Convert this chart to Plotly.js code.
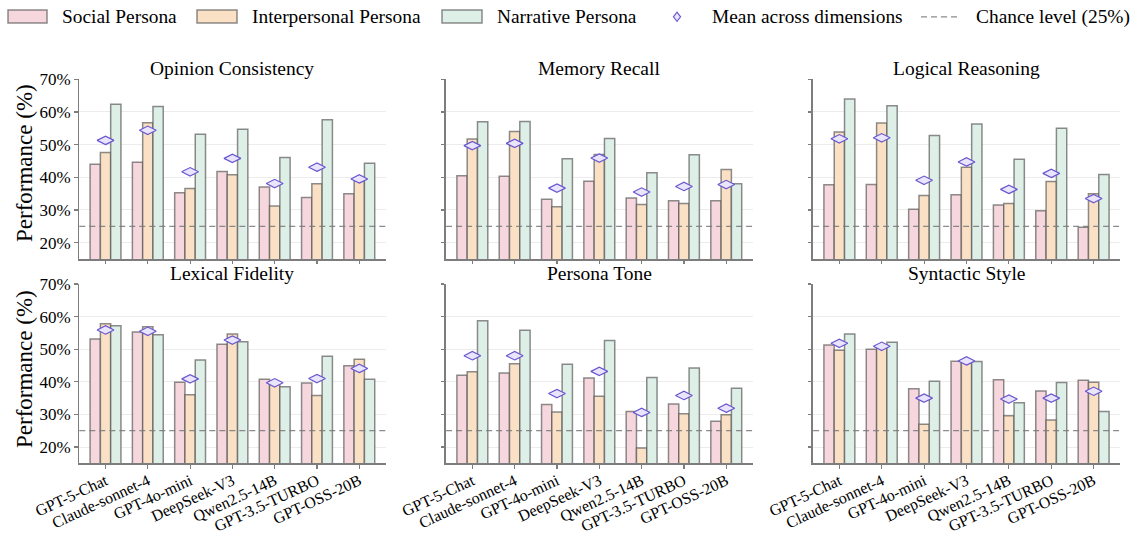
<!DOCTYPE html>
<html>
<head>
<meta charset="utf-8">
<script src="https://cdn.plot.ly/plotly-3.0.1.min.js"></script>
<style>html,body{margin:0;padding:0;background:#fff;}#chart{width:1137px;height:536px;}</style>
</head>
<body>
<div id="chart"></div>
<script>
// ---------- data ----------
const models = ['GPT-5-Chat','Claude-sonnet-4','GPT-4o-mini','DeepSeek-V3','Qwen2.5-14B','GPT-3.5-TURBO','GPT-OSS-20B'];
const dimensions = ['Opinion Consistency','Memory Recall','Logical Reasoning','Lexical Fidelity','Persona Tone','Syntactic Style'];
const seriesNames = ['Social Persona','Interpersonal Persona','Narrative Persona'];
const meanName = 'Mean across dimensions';
const chanceName = 'Chance level (25%)';
const yTitle = 'Performance (%)';
const chanceLevel = 25;
const yTickVals = [20,30,40,50,60,70];
const yTickLabels = ['20%','30%','40%','50%','60%','70%'];

const opinionSocial        = [44.0,44.6,35.3,41.8,37.0,33.8,35.0];
const opinionInterpersonal = [47.6,56.7,36.6,40.8,31.2,38.0,39.3];
const opinionNarrative     = [62.4,61.7,53.2,54.7,46.1,57.6,44.3];
const opinionMean          = [51.3,54.4,41.7,45.8,38.1,43.1,39.5];

const memorySocial         = [40.5,40.3,33.3,38.8,33.7,32.8,32.8];
const memoryInterpersonal  = [51.7,54.0,31.0,47.0,31.7,32.0,42.4];
const memoryNarrative      = [57.0,57.1,45.7,51.9,41.4,46.9,38.0];
const memoryMean           = [49.7,50.4,36.7,45.9,35.5,37.2,37.8];

const logicalSocial        = [37.7,37.8,30.2,34.7,31.5,29.8,24.7];
const logicalInterpersonal = [53.9,56.6,34.4,43.1,32.0,38.7,35.0];
const logicalNarrative     = [64.0,61.9,52.8,56.3,45.5,55.0,40.9];
const logicalMean          = [51.8,52.1,39.1,44.7,36.3,41.2,33.5];

const lexicalSocial        = [53.1,55.3,39.9,51.5,40.8,39.6,44.9];
const lexicalInterpersonal = [57.8,56.9,36.0,54.7,39.8,35.8,46.9];
const lexicalNarrative     = [57.2,54.4,46.7,52.3,38.5,47.8,40.8];
const lexicalMean          = [55.9,55.5,40.9,52.8,39.7,41.0,44.1];

const toneSocial           = [42.0,42.7,33.0,41.2,30.9,33.2,27.9];
const toneInterpersonal    = [43.1,45.5,30.7,35.6,19.7,30.2,29.9];
const toneNarrative        = [58.7,55.8,45.4,52.7,41.3,44.2,38.0];
const toneMean             = [48.0,48.0,36.4,43.2,30.6,35.8,31.9];

const syntacticSocial        = [51.3,50.0,37.9,46.3,40.6,37.2,40.5];
const syntacticInterpersonal = [49.7,50.9,27.0,46.6,29.6,28.3,39.9];
const syntacticNarrative     = [54.7,52.1,40.2,46.2,33.6,39.8,30.9];
const syntacticMean          = [51.8,50.9,35.0,46.4,34.7,35.0,37.1];

const panelData = [
  [opinionSocial, opinionInterpersonal, opinionNarrative, opinionMean],
  [memorySocial, memoryInterpersonal, memoryNarrative, memoryMean],
  [logicalSocial, logicalInterpersonal, logicalNarrative, logicalMean],
  [lexicalSocial, lexicalInterpersonal, lexicalNarrative, lexicalMean],
  [toneSocial, toneInterpersonal, toneNarrative, toneMean],
  [syntacticSocial, syntacticInterpersonal, syntacticNarrative, syntacticMean]
];

// ---------- style ----------
const W = 1137, H = 536;
const px = v => v / W;
const py = v => 1 - v / H;
const FONT = 'Liberation Serif, Times New Roman, Times, serif';
const fills = ['#f7d7de', '#fae1c6', '#ddefe7'];
const barEdge = 'rgba(80,80,80,0.65)';
const spine = '#7d7d7d';
const colDomains = [[px(79.3), px(385.5)], [px(446.1), px(752.5)], [px(813.1), px(1119.9)]];
const rowDomains = [[py(259), py(79.3)], [py(463.3), py(284)]];
const yTitleCenters = [163, 369];

const traces = [];
const layout = {
  width: W, height: H,
  margin: {l: 0, r: 0, t: 0, b: 0},
  paper_bgcolor: '#fff', plot_bgcolor: '#fff',
  showlegend: false,
  barmode: 'group', bargap: 0.27, bargroupgap: 0,
  font: {family: FONT, color: '#000', size: 17},
  shapes: [], annotations: []
};

for (let p = 0; p < 6; p++) {
  const row = Math.floor(p / 3), col = p % 3;
  const n = p + 1;
  const xa = 'x' + (n === 1 ? '' : n), ya = 'y' + (n === 1 ? '' : n);
  const [s, i, nv, m] = panelData[p];
  [s, i, nv].forEach((vals, k) => {
    traces.push({
      type: 'bar', x: models, y: vals, name: seriesNames[k],
      xaxis: xa, yaxis: ya,
      marker: {color: fills[k], line: {color: barEdge, width: 1.5}},
      hoverinfo: 'x+y'
    });
  });
  traces.push({
    type: 'scatter', mode: 'markers', x: models, y: m, name: meanName,
    xaxis: xa, yaxis: ya,
    marker: {symbol: 'diamond-wide', size: 12, color: '#e9e5fb', line: {color: '#6a55d0', width: 1.2}},
    cliponaxis: false
  });

  layout['xaxis' + (n === 1 ? '' : n)] = {
    domain: colDomains[col], anchor: ya,
    type: 'category', range: [-0.62, 6.62],
    showline: true, linecolor: spine, linewidth: 1.8,
    ticks: 'outside', ticklen: 3.5, tickwidth: 1.2, tickcolor: spine,
    showgrid: false, zeroline: false,
    showticklabels: row === 1, tickangle: -25, ticklabelstandoff: -3,
    tickfont: {family: FONT, size: 16, color: '#000'},
    fixedrange: true
  };
  layout['yaxis' + (n === 1 ? '' : n)] = {
    domain: rowDomains[row], anchor: xa,
    range: [15, 70], tickmode: 'array', tickvals: yTickVals, ticktext: yTickLabels,
    showline: true, linecolor: spine, linewidth: 1.8,
    ticks: 'outside', ticklen: 3.5, tickwidth: 1.2, tickcolor: spine,
    showgrid: true, gridcolor: '#ececec', gridwidth: 1, zeroline: false,
    showticklabels: col === 0,
    tickfont: {family: FONT, size: 17, color: '#000'},
    fixedrange: true
  };

  if (col === 0) {
    layout.annotations.push({
      text: yTitle, xref: 'paper', yref: 'paper',
      x: px(24), y: py(yTitleCenters[row]), xanchor: 'center', yanchor: 'middle',
      textangle: -90, showarrow: false,
      font: {family: FONT, size: 23, color: '#000'}
    });
  }

  // chance level
  layout.shapes.push({
    type: 'line', xref: xa + ' domain', yref: ya,
    x0: 0, x1: 1, y0: chanceLevel, y1: chanceLevel,
    line: {color: 'rgba(120,120,120,0.85)', width: 1.3, dash: '6px,4px'}, layer: 'above'
  });

  // panel title
  layout.annotations.push({
    text: dimensions[p], xref: 'paper', yref: 'paper',
    x: (colDomains[col][0] + colDomains[col][1]) / 2, y: rowDomains[row][1],
    xanchor: 'center', yanchor: 'bottom', yshift: -2, showarrow: false,
    font: {family: FONT, size: 19.5, color: '#000'}
  });
}

// ---------- legend (drawn manually to match placement) ----------
const legFont = {family: FONT, size: 19.4, color: '#000'};
const boxY0 = 10, boxY1 = 23, legMid = 16.8;
const boxItems = [
  {x0: 8, x1: 47, tx: 60, k: 0},
  {x0: 197, x1: 237, tx: 250, k: 1},
  {x0: 442, x1: 482, tx: 495, k: 2}
];
boxItems.forEach(b => {
  layout.shapes.push({
    type: 'rect', xref: 'paper', yref: 'paper',
    x0: px(b.x0), x1: px(b.x1), y0: py(boxY1), y1: py(boxY0),
    fillcolor: fills[b.k], line: {color: barEdge, width: 1.5}
  });
  layout.annotations.push({
    text: seriesNames[b.k], xref: 'paper', yref: 'paper',
    x: px(b.tx), y: py(legMid), xanchor: 'left', yanchor: 'middle',
    showarrow: false, font: legFont
  });
});
// diamond handle
const dc = 677, dw = 3.6, dh = 4.6;
layout.shapes.push({
  type: 'path', xref: 'paper', yref: 'paper',
  path: `M ${px(dc)} ${py(legMid - dh)} L ${px(dc + dw)} ${py(legMid)} L ${px(dc)} ${py(legMid + dh)} L ${px(dc - dw)} ${py(legMid)} Z`,
  fillcolor: '#e9e5fb', line: {color: '#6a55d0', width: 1.1}
});
layout.annotations.push({
  text: meanName, xref: 'paper', yref: 'paper',
  x: px(710), y: py(legMid), xanchor: 'left', yanchor: 'middle',
  showarrow: false, font: legFont
});
// dashed handle
layout.shapes.push({
  type: 'line', xref: 'paper', yref: 'paper',
  x0: px(921), x1: px(961), y0: py(legMid), y1: py(legMid),
  line: {color: 'rgba(120,120,120,0.85)', width: 1.3, dash: '6px,4px'}
});
layout.annotations.push({
  text: chanceName, xref: 'paper', yref: 'paper',
  x: px(974), y: py(legMid), xanchor: 'left', yanchor: 'middle',
  showarrow: false, font: legFont
});

Plotly.newPlot('chart', traces, layout, {displayModeBar: false, staticPlot: true});
</script>
</body>
</html>
